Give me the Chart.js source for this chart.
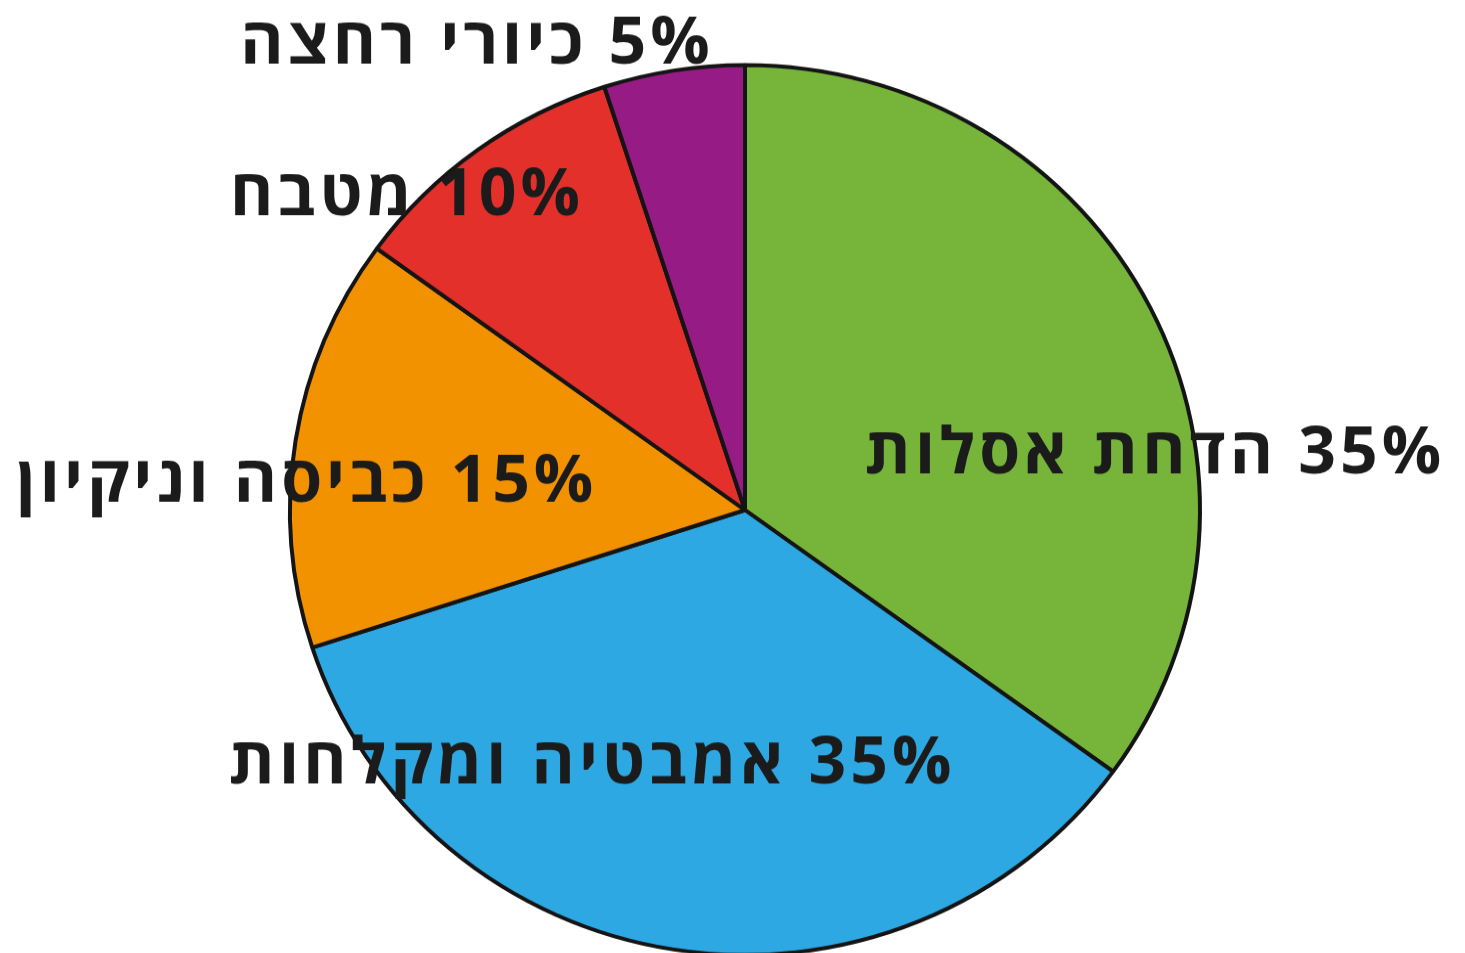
<!DOCTYPE html>
<html lang="he">
<head>
<meta charset="utf-8">
<title>Pie</title>
<script src="https://cdn.jsdelivr.net/npm/chart.js@4/dist/chart.umd.min.js"></script>
<style>
    html, body {
        margin: 0;
        padding: 0;
        background: #ffffff;
        overflow: hidden;
        width: 1465px;
        height: 953px;
    }
    #wrap {
        width: 1465px;
        height: 1040px;
        transform: scale(1, 0.978);
        transform-origin: 0 0;
    }
</style>
</head>
<body>
<div id="wrap"><canvas id="pieChart"></canvas></div>

<script>
/* ==========================================
   DATA
========================================== */

const categories = ["הדחת אסלות", "אמבטיה ומקלחות", "כביסה וניקיון", "מטבח", "כיורי רחצה"];
const values = [35, 35, 15, 10, 5];

const sliceColors = ["#76B43A", "#2EA8E2", "#F39200", "#E4302A", "#971B85"];

// label centre, as a fraction of the radius from the pie centre
const labelOffsets = [
    [0.901, -0.123],
    [-0.336, 0.573],
    [-0.963, -0.061],
    [-0.743, -0.703],
    [-0.589, -1.045]
];

/* ==========================================
   LABEL PLUGIN
========================================== */

const sliceLabels = {
    id: "sliceLabels",
    afterDatasetsDraw(chart) {
        const ctx = chart.ctx;
        const arcs = chart.getDatasetMeta(0).data;

        ctx.save();
        ctx.font = "bold 66px 'Open Sans', 'DejaVu Sans', sans-serif";
        ctx.letterSpacing = "4px";
        ctx.fillStyle = "#1b1b1b";
        ctx.direction = "rtl";
        ctx.textAlign = "center";
        ctx.textBaseline = "middle";

        arcs.forEach((arc, i) => {
            const r = arc.outerRadius;
            const x = arc.x + labelOffsets[i][0] * r;
            const y = arc.y + labelOffsets[i][1] * r;
            ctx.fillText(values[i] + "% " + categories[i], x, y);
        });

        ctx.restore();
    }
};

/* ==========================================
   CHART
========================================== */

new Chart(document.getElementById("pieChart"), {
    type: "pie",
    data: {
        labels: categories,
        datasets: [{
            data: values,
            backgroundColor: sliceColors,
            borderColor: "#141414",
            borderWidth: 4,
            borderAlign: "center"
        }]
    },
    options: {
        responsive: true,
        maintainAspectRatio: false,
        animation: false,
        radius: 455,
        layout: {
            padding: { left: 290, right: 265, top: 66, bottom: 63 }
        },
        plugins: {
            legend: { display: false },
            tooltip: { enabled: false }
        }
    },
    plugins: [sliceLabels]
});
</script>
</body>
</html>
